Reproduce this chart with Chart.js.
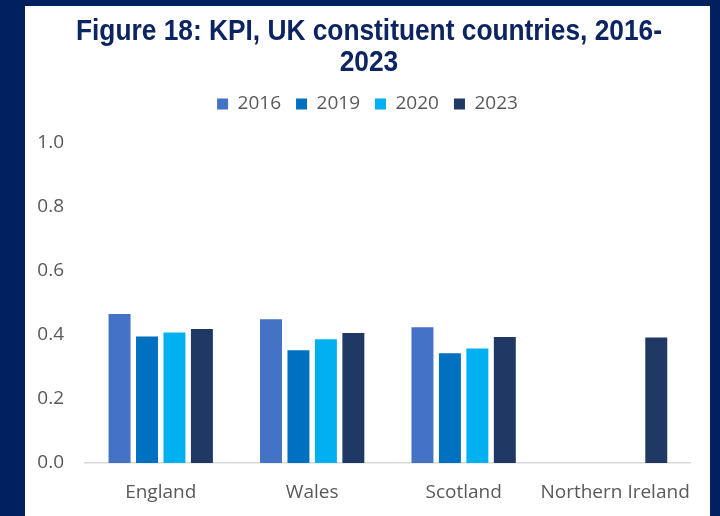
<!DOCTYPE html>
<html>
<head>
<meta charset="utf-8">
<script src="https://cdn.jsdelivr.net/npm/chart.js@4.4.1/dist/chart.umd.min.js"></script>
<style>
  html, body { margin: 0; padding: 0; }
  body { width: 720px; height: 516px; background: #002060; position: relative; overflow: hidden; }
  #panel { position: absolute; left: 25px; top: 6px; width: 685px; height: 510px; background: #ffffff; }
  #panel canvas { display: block; position: absolute; left: 0; top: 0; }
  #title {
    position: absolute; left: 19px; top: 15px; width: 700px;
    text-align: center; color: #0C2461;
    font: bold 29px "Liberation Sans", Arial, sans-serif; line-height: 31px;
    transform-origin: 350px 0; white-space: nowrap; z-index: 2;
  }
</style>
</head>
<body>
<div id="panel"><canvas id="chart" width="685" height="510"></canvas></div>
<div id="title"><div id="t1">Figure 18: KPI, UK constituent countries, 2016-</div><div>2023</div></div>
<script>
// KPI by UK constituent country
const countries = ['England', 'Wales', 'Scotland', 'Northern Ireland'];
const years = ['2016', '2019', '2020', '2023'];
const kpi2016 = [0.466, 0.449, 0.424, null];
const kpi2019 = [0.395, 0.352, 0.343, null];
const kpi2020 = [0.408, 0.387, 0.358, null];
const kpi2023 = [0.419, 0.406, 0.394, 0.392];
const yTicks = [0, 0.2, 0.4, 0.6, 0.8, 1.0];

const seriesValues = [kpi2016, kpi2019, kpi2020, kpi2023];
const seriesColors = ['#4472C4', '#0070C0', '#00B0F0', '#203864'];
const labelGrey = '#595959';
const baseFont = '"Open Sans", "Noto Sans", sans-serif';

// condensed heading: squeeze the first line to a fixed width
(function () {
  const ctx = document.createElement('canvas').getContext('2d');
  ctx.font = 'bold 29px "Liberation Sans", Arial, sans-serif';
  const w = ctx.measureText(document.getElementById('t1').textContent).width;
  document.getElementById('title').style.transform = 'scaleX(' + (586 / w) + ')';
})();

// keep a fixed gap between the legend and the plot area
const legendSpacer = {
  id: 'legendSpacer',
  beforeInit(chart) {
    const fit = chart.legend.fit;
    chart.legend.fit = function () {
      fit.call(chart.legend);
      this.height = 63.5;
    };
  }
};

new Chart(document.getElementById('chart'), {
  type: 'bar',
  data: {
    labels: countries,
    datasets: years.map((y, i) => ({
      label: y,
      data: seriesValues[i],
      backgroundColor: seriesColors[i],
      borderWidth: 0,
      categoryPercentage: 0.725,
      barPercentage: 0.8
    }))
  },
  options: {
    responsive: false,
    animation: false,
    layout: { padding: { left: 0, right: 0, top: 73.5, bottom: 0 } },
    plugins: {
      title: { display: false },
      legend: {
        position: 'top',
        labels: {
          color: labelGrey,
          font: { family: baseFont, size: 19 },
          boxWidth: 11,
          boxHeight: 11,
          padding: 15
        }
      },
      tooltip: { enabled: false }
    },
    scales: {
      x: {
        afterFit(scale) { scale.height = 53; },
        grid: { display: false, drawTicks: false },
        border: { display: true, color: '#D9D9D9', width: 1.5 },
        ticks: { color: labelGrey, font: { family: baseFont, size: 19 }, padding: 18, maxRotation: 0, autoSkip: false }
      },
      y: {
        min: 0,
        max: 1,
        afterBuildTicks(scale) { scale.ticks = yTicks.map(v => ({ value: v })); },
        afterFit(scale) { scale.width = 60; },
        grid: { display: false, drawTicks: false },
        border: { display: false },
        ticks: {
          color: labelGrey,
          font: { family: baseFont, size: 19 },
          padding: 21,
          callback: v => Number(v).toFixed(1)
        }
      },
      // empty right-hand margin so the plot stops short of the frame
      yRight: {
        position: 'right',
        min: 0,
        max: 1,
        afterFit(scale) { scale.width = 18; },
        grid: { display: false, drawTicks: false },
        border: { display: false },
        ticks: { display: false }
      }
    }
  },
  plugins: [legendSpacer]
});
</script>
</body>
</html>
